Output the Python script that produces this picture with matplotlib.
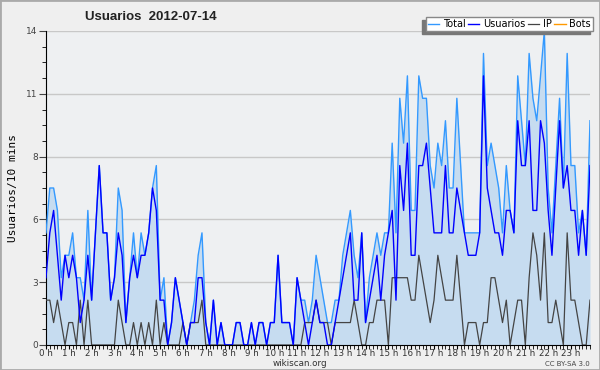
import numpy as np
import matplotlib
matplotlib.use("Agg")
import matplotlib.pyplot as plt
from matplotlib.patches import Rectangle
from matplotlib.ticker import FixedLocator, MultipleLocator

# valores cada 10 minutos (144 puntos)
total = [5, 7, 7, 6, 3, 4, 4, 5, 3, 3, 2, 6, 2, 5, 8, 5, 5, 2, 3, 7,
         6, 1, 3, 5, 3, 5, 4, 5, 7, 8, 2, 3, 0, 1, 3, 2, 1, 0, 1, 2,
         4, 5, 1, 0, 2, 0, 1, 0, 0, 0, 1, 1, 0, 0, 1, 0, 1, 1, 0, 1,
         1, 4, 1, 1, 1, 0, 3, 2, 2, 1, 2, 4, 3, 2, 1, 1, 2, 2, 4, 5,
         6, 4, 3, 5, 1, 3, 4, 5, 4, 5, 5, 9, 5, 11, 9, 12, 6, 6, 12, 11,
         11, 8, 7, 9, 8, 10, 7, 7, 11, 8, 5, 5, 5, 5, 5, 13, 8, 9, 8, 7,
         5, 8, 6, 5, 12, 10, 8, 13, 11, 10, 12, 14, 7, 5, 8, 11, 7, 13, 8, 8,
         5, 6, 4, 10]
usuarios = [3, 5, 6, 4, 2, 4, 3, 4, 3, 1, 2, 4, 2, 5, 8, 5, 5, 2, 3, 5,
            4, 1, 3, 4, 3, 4, 4, 5, 7, 6, 2, 2, 0, 1, 3, 2, 1, 0, 1, 1,
            3, 3, 1, 0, 2, 0, 1, 0, 0, 0, 1, 1, 0, 0, 1, 0, 1, 1, 0, 1,
            1, 4, 1, 1, 1, 0, 3, 2, 1, 0, 1, 2, 1, 1, 0, 0, 1, 2, 3, 4,
            5, 2, 2, 5, 1, 2, 3, 4, 2, 4, 5, 6, 2, 8, 6, 9, 4, 4, 8, 8,
            9, 7, 5, 5, 5, 8, 5, 5, 7, 6, 5, 4, 4, 4, 5, 12, 7, 6, 5, 5,
            4, 6, 6, 5, 10, 8, 8, 10, 6, 6, 10, 9, 6, 4, 7, 10, 7, 8, 6, 6,
            4, 6, 4, 8]
ip = [2, 2, 1, 2, 1, 0, 1, 1, 0, 2, 0, 2, 0, 0, 0, 0, 0, 0, 0, 2,
      1, 0, 0, 1, 0, 1, 0, 1, 0, 2, 0, 1, 0, 0, 0, 0, 1, 0, 1, 1,
      1, 2, 0, 0, 0, 0, 0, 0, 0, 0, 0, 0, 0, 0, 0, 0, 0, 0, 0, 0,
      0, 0, 0, 0, 0, 0, 0, 0, 1, 1, 1, 2, 1, 1, 1, 0, 1, 1, 1, 1,
      1, 2, 1, 0, 0, 1, 1, 2, 2, 2, 0, 3, 3, 3, 3, 3, 2, 2, 4, 3,
      2, 1, 2, 4, 3, 2, 2, 2, 4, 2, 0, 1, 1, 1, 0, 1, 1, 3, 3, 2,
      1, 2, 0, 1, 2, 2, 0, 3, 5, 4, 2, 5, 1, 1, 2, 1, 0, 5, 2, 2,
      1, 0, 0, 2]
bots = [0] * 144

hour_labels = [f"{h} h" for h in range(24)]
legend_labels = ["Total", "Usuarios", "IP", "Bots"]

x = np.arange(len(total))

fig = plt.figure(figsize=(6, 3.7), dpi=100, facecolor="#efefef")
ax = fig.add_axes([46/600, 25/370, 544/600, 314/370])
ax.set_facecolor("#eef0f2")

l_bots, = ax.plot(x, bots, color="#ff9900", lw=1, zorder=1)
ax.fill_between(x, total, 0, color="#c6dcf0", lw=0, zorder=2)
l_total, = ax.plot(x, total, color="#3399ff", lw=1, zorder=3)
l_ip, = ax.plot(x, ip, color="#444444", lw=0.9, zorder=4)
l_usu, = ax.plot(x, usuarios, color="#0000ff", lw=1, zorder=5)

ax.set_xlim(0, 143)
ax.set_ylim(0, 14)

yt = np.linspace(0, 14, 6)
ax.yaxis.set_major_locator(FixedLocator(yt))
ax.set_yticklabels([f"{v:.0f}" for v in yt])
ax.yaxis.set_minor_locator(MultipleLocator(0.7))
ax.grid(axis="y", color="#c8c8c8", lw=1, zorder=0)

ax.set_xticks(np.arange(24) * 6)
ax.set_xticklabels(hour_labels)
ax.xaxis.set_minor_locator(MultipleLocator(1))

ax.tick_params(axis="y", which="major", length=5, labelsize=6.5, pad=1, colors="#444444")
ax.tick_params(axis="y", which="minor", length=3)
ax.tick_params(axis="x", which="major", length=3, labelsize=6.3, pad=0, labelcolor="#333333")
ax.tick_params(axis="x", which="minor", length=3)
for side in ["top", "right"]:
    ax.spines[side].set_visible(False)
ax.spines["left"].set_color("black")
ax.spines["bottom"].set_color("black")

ax.set_ylabel("Usuarios/10 mins", fontsize=8, family="DejaVu Sans Mono", labelpad=6)

fig.text(151/600, 1 - 17/370, "Usuarios  2012-07-14", ha="center", va="center",
         fontsize=9.5, fontweight="bold", family="Liberation Sans", color="#222222")
fig.text(300/600, 1 - 363.5/370, "wikiscan.org", ha="center", va="center",
         fontsize=6.3, color="#333333")
fig.text(590/600, 1 - 363.5/370, "CC BY-SA 3.0", ha="right", va="center",
         fontsize=5, color="#444444")

leg = ax.legend([l_total, l_usu, l_ip, l_bots], legend_labels, ncol=4,
                loc="upper right", bbox_to_anchor=(593/600, 1 - 17/370),
                bbox_transform=fig.transFigure, fontsize=7, frameon=True,
                fancybox=False, shadow={"ox": -2.5, "oy": -2.5, "color": "#777777", "alpha": 1},
                framealpha=1, edgecolor="#888888", handlelength=1.2,
                handletextpad=0.4, columnspacing=0.2, borderpad=0.2,
                borderaxespad=0)
leg.set_zorder(10)

fig.patches.append(Rectangle((0, 0), 1, 1, transform=fig.transFigure,
                             fill=False, edgecolor="#aaaaaa", lw=2))

fig.savefig("out.png", dpi=100, facecolor=fig.get_facecolor())
